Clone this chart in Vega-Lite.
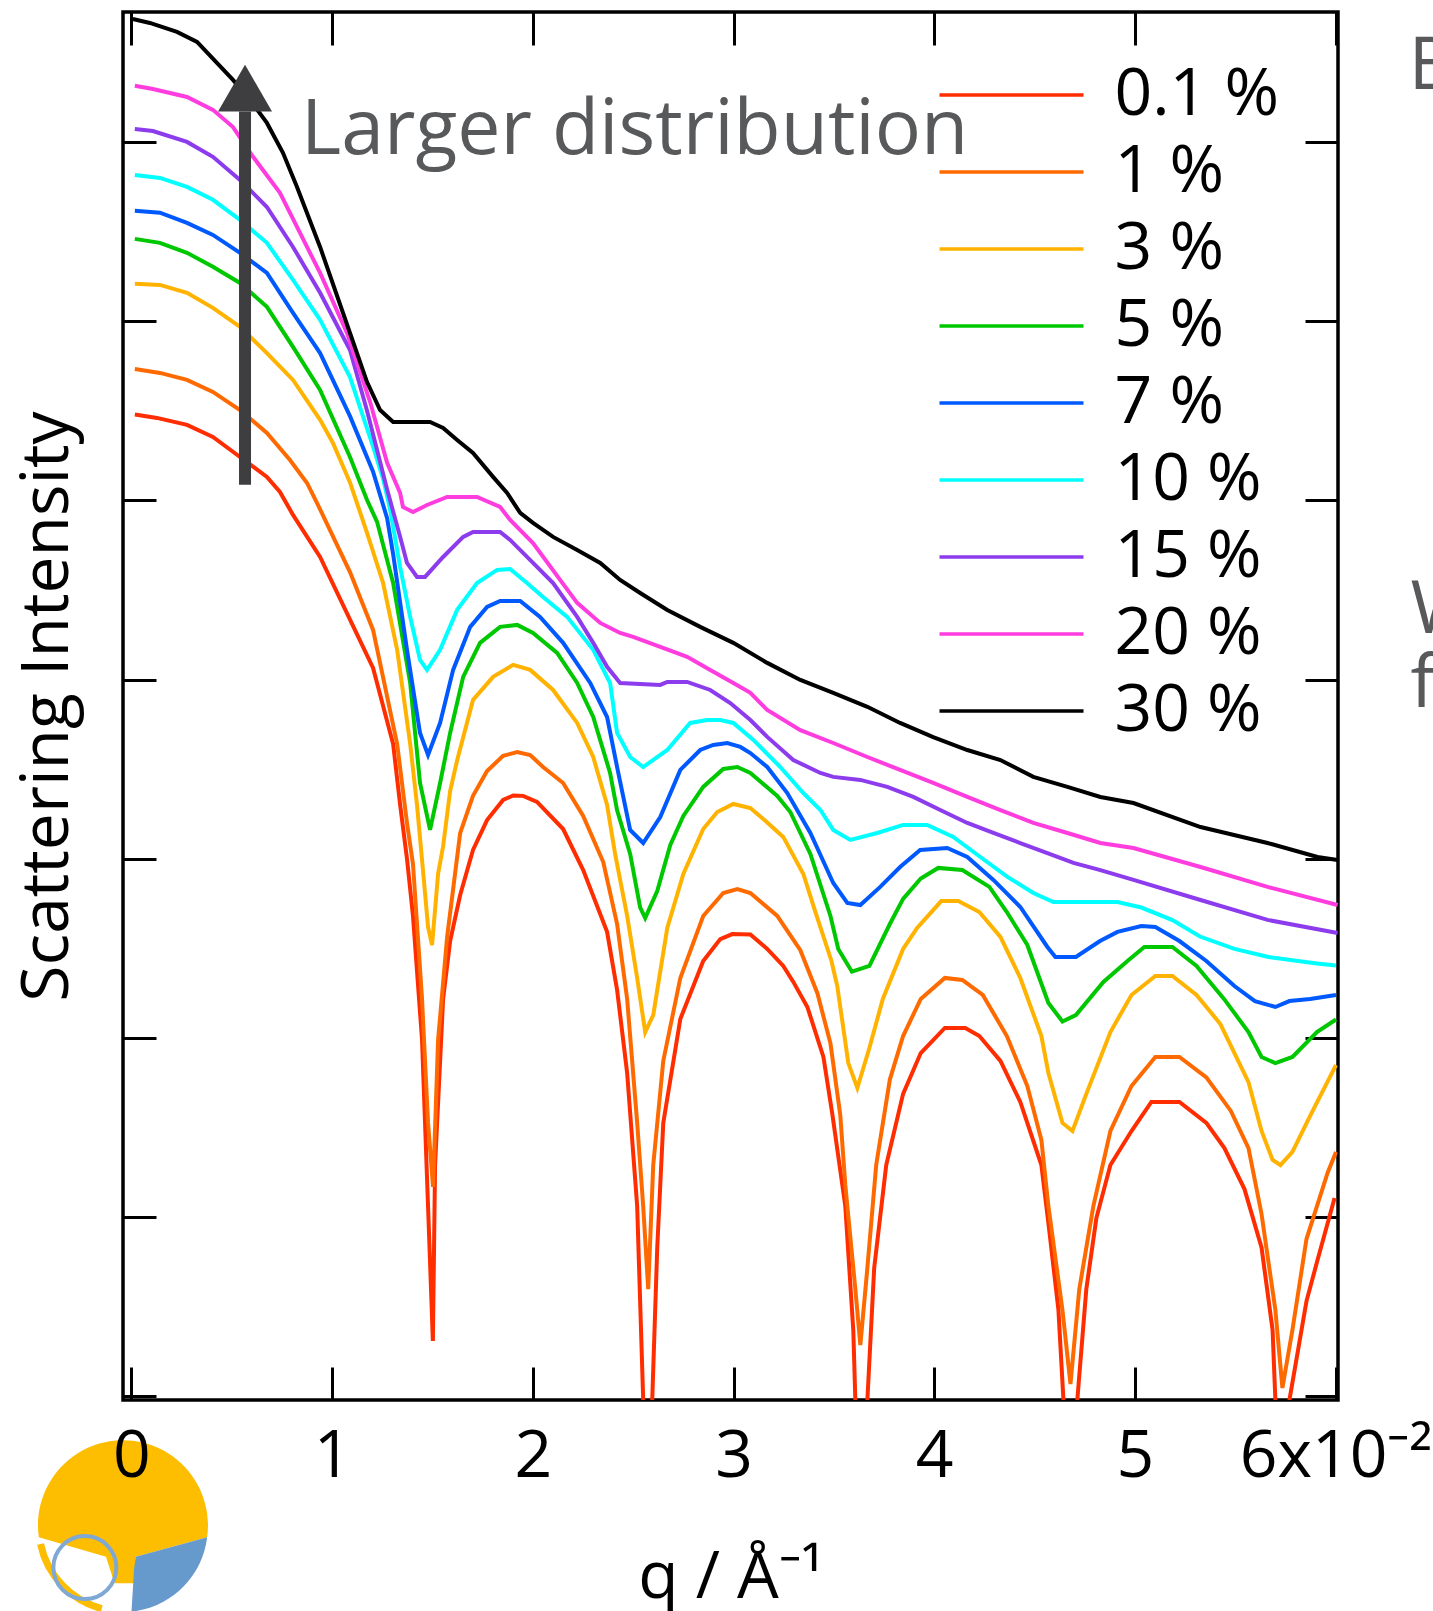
{
"$schema": "https://vega.github.io/schema/vega-lite/v6.json",
"width": 1215, "height": 1388,
"autosize": {"type": "none"},
"padding": {"left": 123, "top": 12, "right": 95, "bottom": 211},
"background": "white",
"config": {
  "view": {"stroke": "black", "strokeWidth": 3.5},
  "font": "Open Sans",
  "axis": {"domain": false, "grid": false, "tickColor": "black", "tickWidth": 3, "tickSize": -33,
           "labelFont": "Open Sans", "labelFontSize": 66, "labelColor": "black",
           "titleFont": "Open Sans", "titleFontSize": 66, "titleColor": "black", "titleFontWeight": "normal"}
},
"layer": [
 {
  "data": {"values": [{"q": -0.042, "v": -0.729}]},
  "mark": {"type": "point", "shape": "M-0.99,0.12 A1,1 0 1,1 0.99,0.12 L0.15,0.35 L0.13,0.66 L-0.1,0.66 L-0.2,0.35 Z", "filled": true, "size": 28900, "color": "#fdbd00", "opacity": 1},
  "encoding": {
    "x": {"field": "q", "type": "quantitative", "axis": null},
    "y": {"field": "v", "type": "quantitative", "axis": null}
  }
 },
 {
  "data": {"values": [{"q": -0.042, "v": -0.729}]},
  "mark": {"type": "point", "shape": "M-0.97,0.2 A1,1 0 0,0 -0.25,0.96", "filled": false, "size": 28900, "stroke": "#fdbd00", "strokeWidth": 7, "opacity": 1},
  "encoding": {
    "x": {"field": "q", "type": "quantitative", "axis": null},
    "y": {"field": "v", "type": "quantitative", "axis": null}
  }
 },
 {
  "data": {"values": [{"q": -0.042, "v": -0.729}]},
  "mark": {"type": "point", "shape": "M0.99,0.12 A1,1 0 0,1 0.1,0.995 L0.13,0.5 L0.15,0.35 Z", "filled": true, "size": 28900, "color": "#6699cc", "opacity": 1},
  "encoding": {
    "x": {"field": "q", "type": "quantitative", "axis": null},
    "y": {"field": "v", "type": "quantitative", "axis": null}
  }
 },
 {
  "data": {"values": [{"q": -0.232, "v": -0.955}]},
  "mark": {"type": "point", "shape": "circle", "filled": false, "size": 3969, "stroke": "#7fa8d4", "strokeWidth": 4, "opacity": 1},
  "encoding": {
    "x": {"field": "q", "type": "quantitative", "axis": null},
    "y": {"field": "v", "type": "quantitative", "axis": null}
  }
 },
 {
  "data": {"values": [
{"s":"0.1 %","q":0.017,"v":5.479},{"s":"0.1 %","q":0.127,"v":5.46},{"s":"0.1 %","q":0.277,"v":5.421},{"s":"0.1 %","q":0.406,"v":5.354},{"s":"0.1 %","q":0.541,"v":5.242},{"s":"0.1 %","q":0.675,"v":5.131},{"s":"0.1 %","q":0.74,"v":5.047},{"s":"0.1 %","q":0.805,"v":4.919},{"s":"0.1 %","q":0.94,"v":4.684},{"s":"0.1 %","q":1.104,"v":4.299},{"s":"0.1 %","q":1.204,"v":4.065},{"s":"0.1 %","q":1.304,"v":3.64},{"s":"0.1 %","q":1.339,"v":3.3},{"s":"0.1 %","q":1.373,"v":3.0},{"s":"0.1 %","q":1.403,"v":2.68},{"s":"0.1 %","q":1.448,"v":1.99},{"s":"0.1 %","q":1.478,"v":1.06},{"s":"0.1 %","q":1.502,"v":0.31},{"s":"0.1 %","q":1.513,"v":1.291},{"s":"0.1 %","q":1.553,"v":2.218},{"s":"0.1 %","q":1.588,"v":2.541},{"s":"0.1 %","q":1.638,"v":2.798},{"s":"0.1 %","q":1.702,"v":3.049},{"s":"0.1 %","q":1.772,"v":3.216},{"s":"0.1 %","q":1.852,"v":3.328},{"s":"0.1 %","q":1.902,"v":3.353},{"s":"0.1 %","q":1.952,"v":3.351},{"s":"0.1 %","q":2.021,"v":3.317},{"s":"0.1 %","q":2.151,"v":3.166},{"s":"0.1 %","q":2.251,"v":2.937},{"s":"0.1 %","q":2.37,"v":2.592},{"s":"0.1 %","q":2.42,"v":2.268},{"s":"0.1 %","q":2.47,"v":1.805},{"s":"0.1 %","q":2.52,"v":1.062},{"s":"0.1 %","q":2.55,"v":-0.02},{"s":"0.1 %","q":2.573,"v":-1},{"s":"0.1 %","q":2.595,"v":-0.02},{"s":"0.1 %","q":2.62,"v":0.831},{"s":"0.1 %","q":2.65,"v":1.526},{"s":"0.1 %","q":2.735,"v":2.106},{"s":"0.1 %","q":2.849,"v":2.43},{"s":"0.1 %","q":2.934,"v":2.552},{"s":"0.1 %","q":2.994,"v":2.58},{"s":"0.1 %","q":3.084,"v":2.578},{"s":"0.1 %","q":3.168,"v":2.497},{"s":"0.1 %","q":3.248,"v":2.402},{"s":"0.1 %","q":3.298,"v":2.313},{"s":"0.1 %","q":3.368,"v":2.173},{"s":"0.1 %","q":3.448,"v":1.894},{"s":"0.1 %","q":3.493,"v":1.57},{"s":"0.1 %","q":3.557,"v":1.062},{"s":"0.1 %","q":3.597,"v":0.366},{"s":"0.1 %","q":3.607,"v":-0.02},{"s":"0.1 %","q":3.637,"v":-1},{"s":"0.1 %","q":3.667,"v":-0.02},{"s":"0.1 %","q":3.701,"v":0.717},{"s":"0.1 %","q":3.761,"v":1.291},{"s":"0.1 %","q":3.845,"v":1.688},{"s":"0.1 %","q":3.933,"v":1.916},{"s":"0.1 %","q":4.053,"v":2.056},{"s":"0.1 %","q":4.155,"v":2.056},{"s":"0.1 %","q":4.225,"v":2.011},{"s":"0.1 %","q":4.33,"v":1.872},{"s":"0.1 %","q":4.429,"v":1.643},{"s":"0.1 %","q":4.534,"v":1.291},{"s":"0.1 %","q":4.569,"v":0.968},{"s":"0.1 %","q":4.619,"v":0.482},{"s":"0.1 %","q":4.644,"v":-0.02},{"s":"0.1 %","q":4.679,"v":-1},{"s":"0.1 %","q":4.713,"v":-0.02},{"s":"0.1 %","q":4.758,"v":0.599},{"s":"0.1 %","q":4.808,"v":0.995},{"s":"0.1 %","q":4.878,"v":1.291},{"s":"0.1 %","q":4.983,"v":1.481},{"s":"0.1 %","q":5.082,"v":1.643},{"s":"0.1 %","q":5.222,"v":1.643},{"s":"0.1 %","q":5.356,"v":1.526},{"s":"0.1 %","q":5.446,"v":1.386},{"s":"0.1 %","q":5.546,"v":1.157},{"s":"0.1 %","q":5.631,"v":0.831},{"s":"0.1 %","q":5.686,"v":0.371},{"s":"0.1 %","q":5.7,"v":-0.02},{"s":"0.1 %","q":5.735,"v":-1},{"s":"0.1 %","q":5.77,"v":-0.02},{"s":"0.1 %","q":5.855,"v":0.532},{"s":"0.1 %","q":5.91,"v":0.761},{"s":"0.1 %","q":5.995,"v":1.107},
{"s":"1 %","q":0.017,"v":5.733},{"s":"1 %","q":0.142,"v":5.711},{"s":"1 %","q":0.277,"v":5.672},{"s":"1 %","q":0.406,"v":5.605},{"s":"1 %","q":0.541,"v":5.504},{"s":"1 %","q":0.675,"v":5.376},{"s":"1 %","q":0.79,"v":5.225},{"s":"1 %","q":0.875,"v":5.097},{"s":"1 %","q":0.925,"v":4.985},{"s":"1 %","q":1.089,"v":4.6},{"s":"1 %","q":1.204,"v":4.277},{"s":"1 %","q":1.324,"v":3.64},{"s":"1 %","q":1.373,"v":3.2},{"s":"1 %","q":1.403,"v":2.97},{"s":"1 %","q":1.448,"v":2.218},{"s":"1 %","q":1.478,"v":1.526},{"s":"1 %","q":1.503,"v":1.169},{"s":"1 %","q":1.528,"v":1.989},{"s":"1 %","q":1.573,"v":2.564},{"s":"1 %","q":1.638,"v":3.144},{"s":"1 %","q":1.702,"v":3.351},{"s":"1 %","q":1.772,"v":3.49},{"s":"1 %","q":1.852,"v":3.574},{"s":"1 %","q":1.922,"v":3.596},{"s":"1 %","q":1.987,"v":3.579},{"s":"1 %","q":2.051,"v":3.512},{"s":"1 %","q":2.151,"v":3.423},{"s":"1 %","q":2.251,"v":3.239},{"s":"1 %","q":2.351,"v":2.982},{"s":"1 %","q":2.42,"v":2.636},{"s":"1 %","q":2.47,"v":2.218},{"s":"1 %","q":2.52,"v":1.526},{"s":"1 %","q":2.55,"v":1.062},{"s":"1 %","q":2.575,"v":0.599},{"s":"1 %","q":2.6,"v":1.291},{"s":"1 %","q":2.65,"v":1.872},{"s":"1 %","q":2.735,"v":2.335},{"s":"1 %","q":2.849,"v":2.681},{"s":"1 %","q":2.949,"v":2.809},{"s":"1 %","q":3.019,"v":2.831},{"s":"1 %","q":3.084,"v":2.809},{"s":"1 %","q":3.218,"v":2.681},{"s":"1 %","q":3.333,"v":2.49},{"s":"1 %","q":3.418,"v":2.25},{"s":"1 %","q":3.483,"v":1.97},{"s":"1 %","q":3.532,"v":1.57},{"s":"1 %","q":3.557,"v":1.18},{"s":"1 %","q":3.607,"v":0.599},{"s":"1 %","q":3.632,"v":0.287},{"s":"1 %","q":3.667,"v":0.717},{"s":"1 %","q":3.711,"v":1.291},{"s":"1 %","q":3.779,"v":1.768},{"s":"1 %","q":3.845,"v":2.011},{"s":"1 %","q":3.933,"v":2.218},{"s":"1 %","q":4.053,"v":2.335},{"s":"1 %","q":4.14,"v":2.324},{"s":"1 %","q":4.242,"v":2.24},{"s":"1 %","q":4.362,"v":2.011},{"s":"1 %","q":4.464,"v":1.732},{"s":"1 %","q":4.534,"v":1.431},{"s":"1 %","q":4.569,"v":1.062},{"s":"1 %","q":4.639,"v":0.482},{"s":"1 %","q":4.679,"v":0.069},{"s":"1 %","q":4.723,"v":0.599},{"s":"1 %","q":4.793,"v":1.062},{"s":"1 %","q":4.878,"v":1.481},{"s":"1 %","q":4.983,"v":1.732},{"s":"1 %","q":5.102,"v":1.894},{"s":"1 %","q":5.222,"v":1.894},{"s":"1 %","q":5.356,"v":1.78},{"s":"1 %","q":5.478,"v":1.593},{"s":"1 %","q":5.566,"v":1.386},{"s":"1 %","q":5.631,"v":1.018},{"s":"1 %","q":5.7,"v":0.482},{"s":"1 %","q":5.735,"v":0.047},{"s":"1 %","q":5.785,"v":0.371},{"s":"1 %","q":5.855,"v":0.878},{"s":"1 %","q":5.96,"v":1.247},{"s":"1 %","q":6.002,"v":1.364},
{"s":"3 %","q":0.017,"v":6.208},{"s":"3 %","q":0.142,"v":6.202},{"s":"3 %","q":0.277,"v":6.158},{"s":"3 %","q":0.406,"v":6.074},{"s":"3 %","q":0.541,"v":5.968},{"s":"3 %","q":0.675,"v":5.822},{"s":"3 %","q":0.805,"v":5.672},{"s":"3 %","q":0.94,"v":5.449},{"s":"3 %","q":1.004,"v":5.32},{"s":"3 %","q":1.089,"v":5.1},{"s":"3 %","q":1.174,"v":4.818},{"s":"3 %","q":1.254,"v":4.539},{"s":"3 %","q":1.324,"v":4.166},{"s":"3 %","q":1.389,"v":3.64},{"s":"3 %","q":1.423,"v":3.3},{"s":"3 %","q":1.454,"v":2.92},{"s":"3 %","q":1.478,"v":2.62},{"s":"3 %","q":1.498,"v":2.519},{"s":"3 %","q":1.528,"v":2.915},{"s":"3 %","q":1.553,"v":3.07},{"s":"3 %","q":1.588,"v":3.378},{"s":"3 %","q":1.623,"v":3.55},{"s":"3 %","q":1.702,"v":3.886},{"s":"3 %","q":1.802,"v":4.015},{"s":"3 %","q":1.902,"v":4.082},{"s":"3 %","q":1.987,"v":4.054},{"s":"3 %","q":2.101,"v":3.942},{"s":"3 %","q":2.221,"v":3.758},{"s":"3 %","q":2.301,"v":3.568},{"s":"3 %","q":2.37,"v":3.3},{"s":"3 %","q":2.41,"v":3.027},{"s":"3 %","q":2.47,"v":2.681},{"s":"3 %","q":2.52,"v":2.335},{"s":"3 %","q":2.56,"v":2.033},{"s":"3 %","q":2.6,"v":2.128},{"s":"3 %","q":2.67,"v":2.614},{"s":"3 %","q":2.75,"v":2.915},{"s":"3 %","q":2.849,"v":3.166},{"s":"3 %","q":2.919,"v":3.261},{"s":"3 %","q":2.999,"v":3.306},{"s":"3 %","q":3.084,"v":3.283},{"s":"3 %","q":3.168,"v":3.203},{"s":"3 %","q":3.248,"v":3.122},{"s":"3 %","q":3.348,"v":2.915},{"s":"3 %","q":3.403,"v":2.72},{"s":"3 %","q":3.488,"v":2.43},{"s":"3 %","q":3.517,"v":2.29},{"s":"3 %","q":3.572,"v":1.86},{"s":"3 %","q":3.617,"v":1.721},{"s":"3 %","q":3.677,"v":1.944},{"s":"3 %","q":3.744,"v":2.218},{"s":"3 %","q":3.845,"v":2.497},{"s":"3 %","q":3.915,"v":2.614},{"s":"3 %","q":4.035,"v":2.764},{"s":"3 %","q":4.12,"v":2.764},{"s":"3 %","q":4.225,"v":2.703},{"s":"3 %","q":4.33,"v":2.564},{"s":"3 %","q":4.429,"v":2.335},{"s":"3 %","q":4.534,"v":2.011},{"s":"3 %","q":4.569,"v":1.805},{"s":"3 %","q":4.639,"v":1.526},{"s":"3 %","q":4.689,"v":1.481},{"s":"3 %","q":4.758,"v":1.688},{"s":"3 %","q":4.878,"v":2.033},{"s":"3 %","q":4.983,"v":2.24},{"s":"3 %","q":5.102,"v":2.346},{"s":"3 %","q":5.187,"v":2.346},{"s":"3 %","q":5.307,"v":2.24},{"s":"3 %","q":5.426,"v":2.078},{"s":"3 %","q":5.566,"v":1.754},{"s":"3 %","q":5.631,"v":1.481},{"s":"3 %","q":5.686,"v":1.319},{"s":"3 %","q":5.725,"v":1.291},{"s":"3 %","q":5.785,"v":1.364},{"s":"3 %","q":5.875,"v":1.57},{"s":"3 %","q":6.002,"v":1.849},
{"s":"5 %","q":0.017,"v":6.459},{"s":"5 %","q":0.142,"v":6.437},{"s":"5 %","q":0.277,"v":6.381},{"s":"5 %","q":0.406,"v":6.303},{"s":"5 %","q":0.541,"v":6.213},{"s":"5 %","q":0.675,"v":6.08},{"s":"5 %","q":0.805,"v":5.856},{"s":"5 %","q":0.94,"v":5.616},{"s":"5 %","q":1.089,"v":5.242},{"s":"5 %","q":1.174,"v":5.002},{"s":"5 %","q":1.224,"v":4.88},{"s":"5 %","q":1.304,"v":4.539},{"s":"5 %","q":1.389,"v":3.981},{"s":"5 %","q":1.438,"v":3.423},{"s":"5 %","q":1.488,"v":3.161},{"s":"5 %","q":1.538,"v":3.423},{"s":"5 %","q":1.588,"v":3.702},{"s":"5 %","q":1.653,"v":4.015},{"s":"5 %","q":1.737,"v":4.205},{"s":"5 %","q":1.837,"v":4.294},{"s":"5 %","q":1.922,"v":4.305},{"s":"5 %","q":2.001,"v":4.26},{"s":"5 %","q":2.121,"v":4.149},{"s":"5 %","q":2.221,"v":3.981},{"s":"5 %","q":2.301,"v":3.791},{"s":"5 %","q":2.385,"v":3.479},{"s":"5 %","q":2.42,"v":3.27},{"s":"5 %","q":2.485,"v":3.027},{"s":"5 %","q":2.535,"v":2.728},{"s":"5 %","q":2.56,"v":2.67},{"s":"5 %","q":2.62,"v":2.82},{"s":"5 %","q":2.685,"v":3.077},{"s":"5 %","q":2.75,"v":3.239},{"s":"5 %","q":2.849,"v":3.401},{"s":"5 %","q":2.949,"v":3.501},{"s":"5 %","q":3.019,"v":3.512},{"s":"5 %","q":3.084,"v":3.479},{"s":"5 %","q":3.218,"v":3.351},{"s":"5 %","q":3.283,"v":3.261},{"s":"5 %","q":3.383,"v":3.027},{"s":"5 %","q":3.483,"v":2.681},{"s":"5 %","q":3.522,"v":2.497},{"s":"5 %","q":3.59,"v":2.37},{"s":"5 %","q":3.677,"v":2.402},{"s":"5 %","q":3.779,"v":2.636},{"s":"5 %","q":3.845,"v":2.776},{"s":"5 %","q":3.933,"v":2.89},{"s":"5 %","q":4.02,"v":2.949},{"s":"5 %","q":4.14,"v":2.937},{"s":"5 %","q":4.275,"v":2.843},{"s":"5 %","q":4.362,"v":2.703},{"s":"5 %","q":4.464,"v":2.519},{"s":"5 %","q":4.569,"v":2.195},{"s":"5 %","q":4.639,"v":2.092},{"s":"5 %","q":4.706,"v":2.128},{"s":"5 %","q":4.843,"v":2.313},{"s":"5 %","q":4.963,"v":2.43},{"s":"5 %","q":5.047,"v":2.508},{"s":"5 %","q":5.187,"v":2.508},{"s":"5 %","q":5.307,"v":2.402},{"s":"5 %","q":5.444,"v":2.218},{"s":"5 %","q":5.566,"v":2.033},{"s":"5 %","q":5.631,"v":1.894},{"s":"5 %","q":5.7,"v":1.86},{"s":"5 %","q":5.785,"v":1.894},{"s":"5 %","q":5.907,"v":2.033},{"s":"5 %","q":6.002,"v":2.103},
{"s":"7 %","q":0.017,"v":6.616},{"s":"7 %","q":0.142,"v":6.605},{"s":"7 %","q":0.277,"v":6.548},{"s":"7 %","q":0.406,"v":6.481},{"s":"7 %","q":0.541,"v":6.381},{"s":"7 %","q":0.675,"v":6.269},{"s":"7 %","q":0.805,"v":6.046},{"s":"7 %","q":0.94,"v":5.822},{"s":"7 %","q":1.089,"v":5.47},{"s":"7 %","q":1.204,"v":5.16},{"s":"7 %","q":1.274,"v":4.9},{"s":"7 %","q":1.304,"v":4.7},{"s":"7 %","q":1.373,"v":4.166},{"s":"7 %","q":1.438,"v":3.702},{"s":"7 %","q":1.478,"v":3.579},{"s":"7 %","q":1.538,"v":3.758},{"s":"7 %","q":1.603,"v":4.054},{"s":"7 %","q":1.688,"v":4.294},{"s":"7 %","q":1.772,"v":4.405},{"s":"7 %","q":1.837,"v":4.439},{"s":"7 %","q":1.937,"v":4.439},{"s":"7 %","q":2.036,"v":4.35},{"s":"7 %","q":2.151,"v":4.205},{"s":"7 %","q":2.286,"v":3.981},{"s":"7 %","q":2.37,"v":3.791},{"s":"7 %","q":2.42,"v":3.512},{"s":"7 %","q":2.485,"v":3.161},{"s":"7 %","q":2.55,"v":3.088},{"s":"7 %","q":2.635,"v":3.233},{"s":"7 %","q":2.735,"v":3.496},{"s":"7 %","q":2.834,"v":3.607},{"s":"7 %","q":2.899,"v":3.635},{"s":"7 %","q":2.969,"v":3.646},{"s":"7 %","q":3.034,"v":3.624},{"s":"7 %","q":3.084,"v":3.59},{"s":"7 %","q":3.168,"v":3.512},{"s":"7 %","q":3.268,"v":3.367},{"s":"7 %","q":3.383,"v":3.144},{"s":"7 %","q":3.497,"v":2.865},{"s":"7 %","q":3.567,"v":2.754},{"s":"7 %","q":3.632,"v":2.742},{"s":"7 %","q":3.731,"v":2.843},{"s":"7 %","q":3.83,"v":2.954},{"s":"7 %","q":3.93,"v":3.049},{"s":"7 %","q":4.065,"v":3.06},{"s":"7 %","q":4.165,"v":3.01},{"s":"7 %","q":4.295,"v":2.882},{"s":"7 %","q":4.429,"v":2.731},{"s":"7 %","q":4.564,"v":2.508},{"s":"7 %","q":4.604,"v":2.452},{"s":"7 %","q":4.706,"v":2.452},{"s":"7 %","q":4.826,"v":2.541},{"s":"7 %","q":4.913,"v":2.592},{"s":"7 %","q":5.032,"v":2.625},{"s":"7 %","q":5.102,"v":2.619},{"s":"7 %","q":5.222,"v":2.541},{"s":"7 %","q":5.356,"v":2.43},{"s":"7 %","q":5.496,"v":2.29},{"s":"7 %","q":5.598,"v":2.206},{"s":"7 %","q":5.7,"v":2.173},{"s":"7 %","q":5.77,"v":2.206},{"s":"7 %","q":5.873,"v":2.218},{"s":"7 %","q":6.002,"v":2.24},
{"s":"10 %","q":0.017,"v":6.816},{"s":"10 %","q":0.142,"v":6.799},{"s":"10 %","q":0.277,"v":6.749},{"s":"10 %","q":0.406,"v":6.677},{"s":"10 %","q":0.541,"v":6.565},{"s":"10 %","q":0.675,"v":6.437},{"s":"10 %","q":0.805,"v":6.23},{"s":"10 %","q":0.94,"v":6.007},{"s":"10 %","q":1.089,"v":5.688},{"s":"10 %","q":1.204,"v":5.3},{"s":"10 %","q":1.254,"v":5.12},{"s":"10 %","q":1.289,"v":4.95},{"s":"10 %","q":1.339,"v":4.628},{"s":"10 %","q":1.389,"v":4.349},{"s":"10 %","q":1.438,"v":4.11},{"s":"10 %","q":1.473,"v":4.054},{"s":"10 %","q":1.538,"v":4.166},{"s":"10 %","q":1.623,"v":4.389},{"s":"10 %","q":1.722,"v":4.539},{"s":"10 %","q":1.822,"v":4.612},{"s":"10 %","q":1.887,"v":4.617},{"s":"10 %","q":1.971,"v":4.539},{"s":"10 %","q":2.051,"v":4.461},{"s":"10 %","q":2.171,"v":4.35},{"s":"10 %","q":2.301,"v":4.166},{"s":"10 %","q":2.385,"v":3.981},{"s":"10 %","q":2.42,"v":3.702},{"s":"10 %","q":2.485,"v":3.568},{"s":"10 %","q":2.55,"v":3.512},{"s":"10 %","q":2.67,"v":3.607},{"s":"10 %","q":2.784,"v":3.758},{"s":"10 %","q":2.869,"v":3.774},{"s":"10 %","q":2.934,"v":3.774},{"s":"10 %","q":2.999,"v":3.758},{"s":"10 %","q":3.099,"v":3.663},{"s":"10 %","q":3.233,"v":3.512},{"s":"10 %","q":3.348,"v":3.367},{"s":"10 %","q":3.433,"v":3.272},{"s":"10 %","q":3.497,"v":3.161},{"s":"10 %","q":3.582,"v":3.105},{"s":"10 %","q":3.716,"v":3.144},{"s":"10 %","q":3.845,"v":3.189},{"s":"10 %","q":3.965,"v":3.189},{"s":"10 %","q":4.095,"v":3.122},{"s":"10 %","q":4.23,"v":3.01},{"s":"10 %","q":4.365,"v":2.899},{"s":"10 %","q":4.494,"v":2.809},{"s":"10 %","q":4.594,"v":2.759},{"s":"10 %","q":4.913,"v":2.759},{"s":"10 %","q":5.032,"v":2.728},{"s":"10 %","q":5.187,"v":2.658},{"s":"10 %","q":5.324,"v":2.566},{"s":"10 %","q":5.496,"v":2.497},{"s":"10 %","q":5.666,"v":2.452},{"s":"10 %","q":5.907,"v":2.416},{"s":"10 %","q":6.002,"v":2.404},
{"s":"15 %","q":0.017,"v":7.072},{"s":"15 %","q":0.107,"v":7.061},{"s":"15 %","q":0.277,"v":7.0},{"s":"15 %","q":0.406,"v":6.917},{"s":"15 %","q":0.541,"v":6.788},{"s":"15 %","q":0.675,"v":6.637},{"s":"15 %","q":0.805,"v":6.414},{"s":"15 %","q":0.94,"v":6.158},{"s":"15 %","q":1.089,"v":5.839},{"s":"15 %","q":1.174,"v":5.5},{"s":"15 %","q":1.274,"v":5.06},{"s":"15 %","q":1.339,"v":4.796},{"s":"15 %","q":1.373,"v":4.651},{"s":"15 %","q":1.423,"v":4.573},{"s":"15 %","q":1.463,"v":4.573},{"s":"15 %","q":1.553,"v":4.684},{"s":"15 %","q":1.653,"v":4.796},{"s":"15 %","q":1.702,"v":4.824},{"s":"15 %","q":1.837,"v":4.824},{"s":"15 %","q":1.887,"v":4.779},{"s":"15 %","q":2.001,"v":4.651},{"s":"15 %","q":2.101,"v":4.539},{"s":"15 %","q":2.221,"v":4.35},{"s":"15 %","q":2.301,"v":4.205},{"s":"15 %","q":2.37,"v":4.071},{"s":"15 %","q":2.435,"v":3.981},{"s":"15 %","q":2.635,"v":3.97},{"s":"15 %","q":2.67,"v":3.987},{"s":"15 %","q":2.769,"v":3.987},{"s":"15 %","q":2.884,"v":3.942},{"s":"15 %","q":2.984,"v":3.869},{"s":"15 %","q":3.084,"v":3.774},{"s":"15 %","q":3.168,"v":3.68},{"s":"15 %","q":3.298,"v":3.551},{"s":"15 %","q":3.433,"v":3.479},{"s":"15 %","q":3.497,"v":3.457},{"s":"15 %","q":3.632,"v":3.44},{"s":"15 %","q":3.766,"v":3.401},{"s":"15 %","q":3.896,"v":3.345},{"s":"15 %","q":4.03,"v":3.272},{"s":"15 %","q":4.165,"v":3.2},{"s":"15 %","q":4.295,"v":3.144},{"s":"15 %","q":4.429,"v":3.088},{"s":"15 %","q":4.564,"v":3.032},{"s":"15 %","q":4.694,"v":2.977},{"s":"15 %","q":4.828,"v":2.937},{"s":"15 %","q":4.993,"v":2.882},{"s":"15 %","q":5.327,"v":2.77},{"s":"15 %","q":5.661,"v":2.659},{"s":"15 %","q":6.01,"v":2.586},
{"s":"20 %","q":0.017,"v":7.313},{"s":"20 %","q":0.107,"v":7.295},{"s":"20 %","q":0.277,"v":7.251},{"s":"20 %","q":0.406,"v":7.179},{"s":"20 %","q":0.506,"v":7.083},{"s":"20 %","q":0.606,"v":6.917},{"s":"20 %","q":0.74,"v":6.716},{"s":"20 %","q":0.84,"v":6.492},{"s":"20 %","q":0.94,"v":6.269},{"s":"20 %","q":1.074,"v":5.934},{"s":"20 %","q":1.189,"v":5.55},{"s":"20 %","q":1.274,"v":5.209},{"s":"20 %","q":1.339,"v":5.041},{"s":"20 %","q":1.353,"v":4.963},{"s":"20 %","q":1.403,"v":4.935},{"s":"20 %","q":1.473,"v":4.974},{"s":"20 %","q":1.573,"v":5.019},{"s":"20 %","q":1.722,"v":5.019},{"s":"20 %","q":1.837,"v":4.963},{"s":"20 %","q":1.887,"v":4.891},{"s":"20 %","q":2.001,"v":4.762},{"s":"20 %","q":2.136,"v":4.556},{"s":"20 %","q":2.221,"v":4.428},{"s":"20 %","q":2.336,"v":4.316},{"s":"20 %","q":2.435,"v":4.26},{"s":"20 %","q":2.5,"v":4.238},{"s":"20 %","q":2.635,"v":4.182},{"s":"20 %","q":2.769,"v":4.127},{"s":"20 %","q":2.884,"v":4.054},{"s":"20 %","q":2.999,"v":3.981},{"s":"20 %","q":3.084,"v":3.926},{"s":"20 %","q":3.168,"v":3.83},{"s":"20 %","q":3.333,"v":3.718},{"s":"20 %","q":3.497,"v":3.646},{"s":"20 %","q":3.667,"v":3.568},{"s":"20 %","q":3.83,"v":3.496},{"s":"20 %","q":3.995,"v":3.423},{"s":"20 %","q":4.165,"v":3.345},{"s":"20 %","q":4.33,"v":3.272},{"s":"20 %","q":4.494,"v":3.2},{"s":"20 %","q":4.664,"v":3.144},{"s":"20 %","q":4.828,"v":3.088},{"s":"20 %","q":4.993,"v":3.06},{"s":"20 %","q":5.327,"v":2.954},{"s":"20 %","q":5.661,"v":2.843},{"s":"20 %","q":6.01,"v":2.742},
{"s":"30 %","q":0.007,"v":7.686},{"s":"30 %","q":0.092,"v":7.664},{"s":"30 %","q":0.227,"v":7.614},{"s":"30 %","q":0.327,"v":7.558},{"s":"30 %","q":0.426,"v":7.441},{"s":"30 %","q":0.506,"v":7.346},{"s":"30 %","q":0.591,"v":7.234},{"s":"30 %","q":0.675,"v":7.106},{"s":"30 %","q":0.755,"v":6.939},{"s":"30 %","q":0.825,"v":6.749},{"s":"30 %","q":0.94,"v":6.414},{"s":"30 %","q":1.089,"v":5.934},{"s":"30 %","q":1.174,"v":5.66},{"s":"30 %","q":1.239,"v":5.504},{"s":"30 %","q":1.304,"v":5.437},{"s":"30 %","q":1.488,"v":5.437},{"s":"30 %","q":1.553,"v":5.404},{"s":"30 %","q":1.623,"v":5.337},{"s":"30 %","q":1.702,"v":5.264},{"s":"30 %","q":1.802,"v":5.131},{"s":"30 %","q":1.872,"v":5.041},{"s":"30 %","q":1.937,"v":4.93},{"s":"30 %","q":2.001,"v":4.874},{"s":"30 %","q":2.101,"v":4.796},{"s":"30 %","q":2.221,"v":4.723},{"s":"30 %","q":2.336,"v":4.651},{"s":"30 %","q":2.435,"v":4.556},{"s":"30 %","q":2.535,"v":4.483},{"s":"30 %","q":2.67,"v":4.388},{"s":"30 %","q":2.834,"v":4.294},{"s":"30 %","q":2.999,"v":4.205},{"s":"30 %","q":3.168,"v":4.093},{"s":"30 %","q":3.333,"v":3.998},{"s":"30 %","q":3.497,"v":3.926},{"s":"30 %","q":3.667,"v":3.848},{"s":"30 %","q":3.83,"v":3.758},{"s":"30 %","q":3.995,"v":3.679},{"s":"30 %","q":4.165,"v":3.607},{"s":"30 %","q":4.33,"v":3.551},{"s":"30 %","q":4.494,"v":3.457},{"s":"30 %","q":4.664,"v":3.401},{"s":"30 %","q":4.828,"v":3.345},{"s":"30 %","q":4.993,"v":3.311},{"s":"30 %","q":5.327,"v":3.177},{"s":"30 %","q":5.661,"v":3.088},{"s":"30 %","q":5.91,"v":3.01},{"s":"30 %","q":6.01,"v":2.993}
  ]},
  "mark": {"type": "line", "clip": true, "strokeWidth": 4},
  "encoding": {
    "x": {"field": "q", "type": "quantitative",
          "scale": {"domain": [-0.042, 6.012], "nice": false, "zero": false},
          "axis": {"orient": "bottom", "zindex": 1, "values": [0,1,2,3,4,5,6], "labelExpr": "datum.value == 6 ? '6x10⁻²' : datum.label",
                   "labelFlush": false, "labelOverlap": false, "labelBound": false, "labelPadding": 57, "labelLimit": 600,
                   "title": "q / Å⁻¹", "titleBaseline": "alphabetic", "titleY": 197}},
    "y": {"field": "v", "type": "quantitative",
          "scale": {"domain": [-0.02, 7.725], "nice": false, "zero": false},
          "axis": {"orient": "left", "zindex": 1, "values": [0,1,2,3,4,5,6,7], "labels": false,
                   "title": "Scattering Intensity", "titleX": -56, "titleBaseline": "alphabetic"}},
    "color": {"field": "s", "type": "nominal",
              "scale": {"domain": ["0.1 %","1 %","3 %","5 %","7 %","10 %","15 %","20 %","30 %"],
                        "range": ["#ff2d00","#ff6a00","#ffb300","#00c800","#0059ff","#00ffff","#8c3ced","#ff3ddf","#000000"]},
              "legend": {"orient": "none", "legendX": 855.5, "legendY": 50, "direction": "vertical", "title": null,
                         "symbolType": "M-4,0L4,0", "symbolSize": 1296, "symbolStrokeWidth": 3.5,
                         "labelFont": "Open Sans", "labelFontSize": 66, "labelColor": "black",
                         "labelOffset": 70, "rowPadding": 11, "labelLimit": 600, "padding": 0}}
  }
 },
 {
  "data": {"values": [{"q": 0.566, "v": 5.087, "v2": 7.17}]},
  "mark": {"type": "rule", "strokeWidth": 12, "color": "#3e3e40", "strokeCap": "butt"},
  "encoding": {
    "x": {"field": "q", "type": "quantitative", "axis": {"orient": "top", "values": [0,1,2,3,4,5,6], "labels": false, "title": null}},
    "y": {"field": "v", "type": "quantitative", "axis": {"orient": "right", "values": [0,1,2,3,4,5,6,7], "labels": false, "title": null}},
    "y2": {"field": "v2"}
  }
 },
 {
  "data": {"values": [{"q": 0.566, "v": 7.30}]},
  "mark": {"type": "point", "shape": "triangle-up", "filled": true, "size": 2916, "color": "#3e3e40", "opacity": 1},
  "encoding": {
    "x": {"field": "q", "type": "quantitative", "axis": null},
    "y": {"field": "v", "type": "quantitative", "axis": null}
  }
 },
 {
  "data": {"values": [{"q": 0.845, "v": 6.933, "t": "Larger distribution"}]},
  "mark": {"type": "text", "align": "left", "baseline": "alphabetic", "font": "Open Sans", "fontSize": 77, "color": "#58595b"},
  "encoding": {
    "x": {"field": "q", "type": "quantitative", "axis": null},
    "y": {"field": "v", "type": "quantitative", "axis": null},
    "text": {"field": "t"}
  }
 },
 {
  "data": {"values": [{"q": 6.363, "v": 7.296, "t": "B"}, {"q": 6.373, "v": 4.26, "t": "W"}, {"q": 6.373, "v": 3.847, "t": "f"}]},
  "mark": {"type": "text", "align": "left", "baseline": "alphabetic", "font": "Open Sans", "fontSize": 74, "color": "#58595b"},
  "encoding": {
    "x": {"field": "q", "type": "quantitative", "axis": null},
    "y": {"field": "v", "type": "quantitative", "axis": null},
    "text": {"field": "t"}
  }
 }
],
"resolve": {"axis": {"x": "independent", "y": "independent"}}
}
